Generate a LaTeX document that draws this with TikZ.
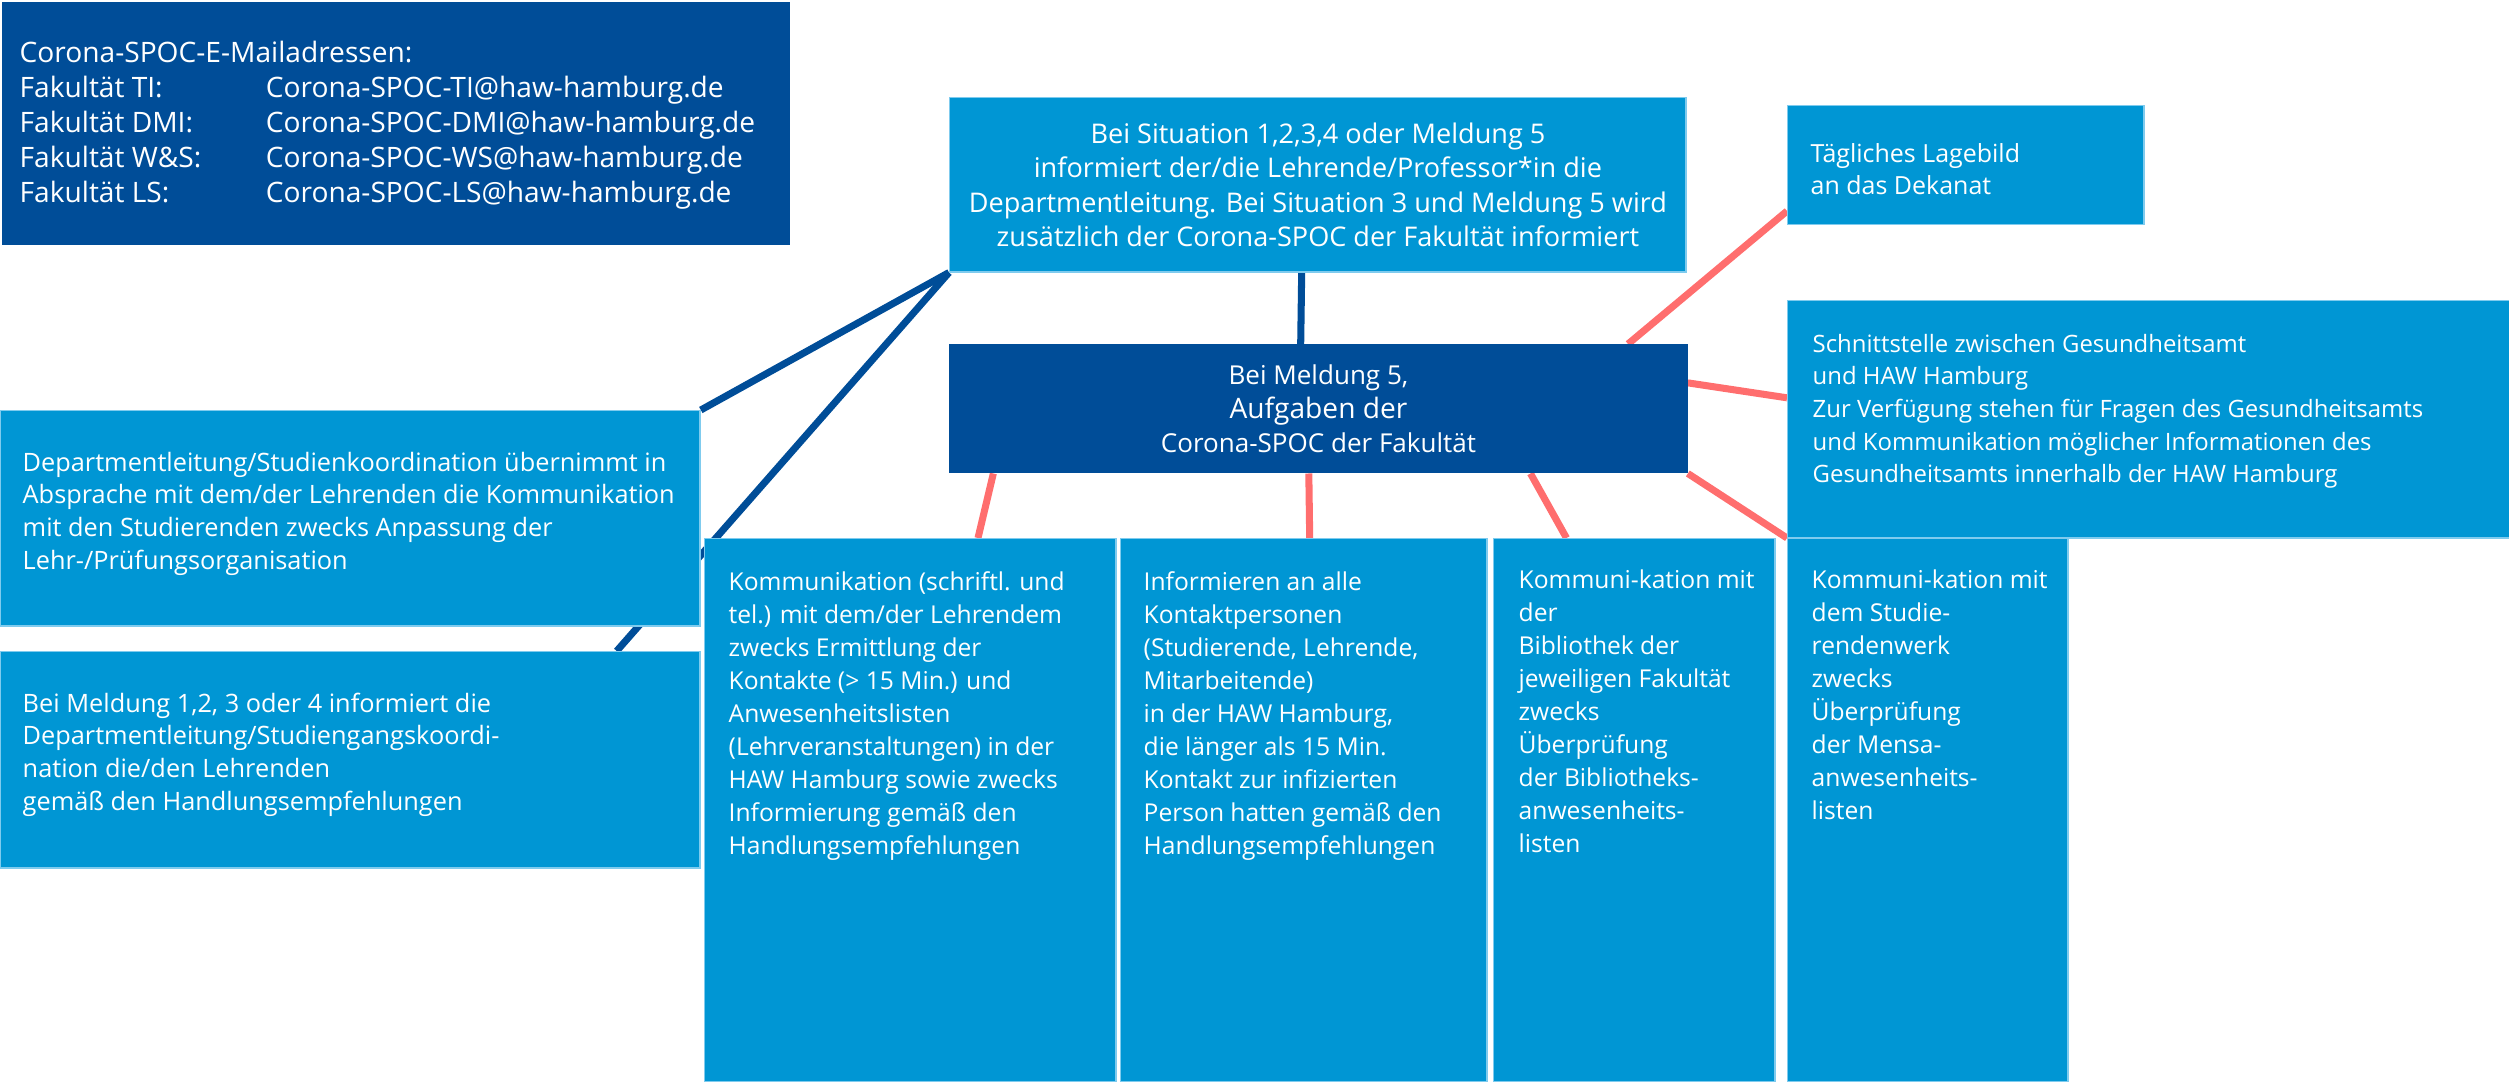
\documentclass[tikz,border=0pt]{standalone}
\usepackage{fontspec}
\setmainfont{Open Sans}
\usetikzlibrary{calc, backgrounds, positioning}
\definecolor{cellblue}{HTML}{0096D4}
\definecolor{spocblue}{HTML}{004D98}
\definecolor{celledge}{HTML}{7FCBEE}
\definecolor{linkred}{HTML}{FF6E6E}
\tikzset{
  panel/.style={rectangle, anchor=north west, inner sep=0pt, fill=cellblue,
                draw=celledge, line width=0.4pt},
  darkpanel/.style={panel, fill=spocblue, draw=spocblue},
  celltxt/.style={anchor=base west, inner sep=0pt, text=white,
                  font=\fontsize{7.0}{9.4}\selectfont},
  sidetxt/.style={celltxt, font=\fontsize{7.2}{9.3}\selectfont},
  headtxt/.style={align=center, text=white, font=\fontsize{7.7}{9.8}\selectfont},
  bluelink/.style={draw=spocblue, line width=2pt},
  redlink/.style={draw=linkred, line width=2pt},
}
\newcommand{\celltext}[1]{\parbox[t]{12cm}{\raggedright #1}}
\newcommand{\faktab}[1]{\makebox[2.46cm][l]{#1}}

\begin{document}
\begin{tikzpicture}[x=0.01cm, y=-0.01cm]
\useasboundingbox (0,0) rectangle (2509,1081);

% Mail addresses, top left
\node[darkpanel, minimum width=7.86cm, minimum height=2.41cm] (mails) at (2,2) {};
\node[celltxt, font=\fontsize{8.0}{9.96}\selectfont] (mailtxt) at (19,62) {\celltext{%
  Corona-SPOC-E-Mailadressen:\\
  \faktab{Fakultät TI:}Corona-SPOC-TI@haw-hamburg.de\\
  \faktab{Fakultät DMI:}Corona-SPOC-DMI@haw-hamburg.de\\
  \faktab{Fakultät W\&S:}Corona-SPOC-WS@haw-hamburg.de\\
  \faktab{Fakultät LS:}Corona-SPOC-LS@haw-hamburg.de}};

% Spine: report of the teacher, then the faculty SPOC
\node[panel, headtxt, minimum width=7.36cm, minimum height=1.74cm] (lage) at (949,97)
  {Bei Situation 1,2,3,4 oder Meldung 5\\
   informiert der/die Lehrende/Professor*in die\\
   Departmentleitung. Bei Situation 3 und Meldung 5 wird\\
   zusätzlich der Corona-SPOC der Fakultät informiert};
\node[darkpanel, headtxt, font=\fontsize{7.4}{9.8}\selectfont,
      minimum width=7.37cm, minimum height=1.28cm] (spoc) at (949,344)
  {Bei Meldung 5,\\
   {\fontsize{8.0}{9.8}\selectfont Aufgaben der}\\
   Corona-SPOC der Fakultät};

% Right column: Dekanat and Gesundheitsamt
\node[panel, minimum width=3.56cm, minimum height=1.19cm] (dekanat) at (1787,105) {};
\node[sidetxt, font=\fontsize{7.1}{9.3}\selectfont] (dekanattxt) at (1810,162) {\celltext{%
  Tägliches Lagebild\\
  an das Dekanat}};
\node[panel, minimum width=7.22cm, minimum height=2.37cm] (gesamt) at (1787,300) {};
\node[sidetxt, font=\fontsize{6.8}{9.3}\selectfont] (gesamttxt) at (1812,352) {\celltext{%
  Schnittstelle zwischen Gesundheitsamt\\
  und HAW Hamburg\\
  Zur Verfügung stehen für Fragen des Gesundheitsamts\\
  und Kommunikation möglicher Informationen des\\
  Gesundheitsamts innerhalb der HAW Hamburg}};

% Left column: Departmentleitung
\node[panel, minimum width=6.99cm, minimum height=2.15cm] (absprache) at (0,410) {};
\node[sidetxt] (abspracheTxt) at (22,471) {\celltext{%
  Departmentleitung/Studienkoordination übernimmt in\\
  Absprache mit dem/der Lehrenden die Kommunikation\\
  mit den Studierenden zwecks Anpassung der\\
  Lehr-/Prüfungsorganisation}};
\node[panel, minimum width=6.99cm, minimum height=2.16cm] (lehrende) at (0,651) {};
\node[sidetxt] (lehrendetxt) at (22,712) {\celltext{%
  Bei Meldung 1,2, 3 oder 4 informiert die\\
  Departmentleitung/Studiengangskoordi-\\
  nation die/den Lehrenden\\
  gemäß den Handlungsempfehlungen}};

% Bottom row: tasks of the SPOC
\node[panel, minimum width=4.11cm, minimum height=5.43cm] (kontakte)   at (704,538)  {};
\node[panel, minimum width=3.66cm, minimum height=5.43cm] (personen)   at (1120,538) {};
\node[panel, minimum width=2.81cm, minimum height=5.43cm] (bibliothek) at (1493,538) {};
\node[panel, minimum width=2.80cm, minimum height=5.43cm] (mensa)      at (1787,538) {};
\node[celltxt] (kontaktetxt) at (728,590) {\celltext{%
  Kommunikation (schriftl. und\\
  tel.) mit dem/der Lehrendem\\
  zwecks Ermittlung der\\
  Kontakte (> 15 Min.) und\\
  Anwesenheitslisten\\
  (Lehrveranstaltungen) in der\\
  HAW Hamburg sowie zwecks\\
  Informierung gemäß den\\
  Handlungsempfehlungen}};
\node[celltxt] (personentxt) at (1143,590) {\celltext{%
  Informieren an alle\\
  Kontaktpersonen\\
  (Studierende, Lehrende,\\
  Mitarbeitende)\\
  in der HAW Hamburg,\\
  die länger als 15 Min.\\
  Kontakt zur infizierten\\
  Person hatten gemäß den\\
  Handlungsempfehlungen}};
\node[celltxt] (bibliothektxt) at (1518,588) {\celltext{%
  Kommuni-kation mit\\
  der\\
  Bibliothek der\\
  jeweiligen Fakultät\\
  zwecks\\
  Überprüfung\\
  der Bibliotheks-\\
  anwesenheits-\\
  listen}};
\node[celltxt] (mensatxt) at (1811,588) {\celltext{%
  Kommuni-kation mit\\
  dem Studie-\\
  rendenwerk\\
  zwecks\\
  Überprüfung\\
  der Mensa-\\
  anwesenheits-\\
  listen}};

% Links, kept behind the boxes
\begin{scope}[on background layer]
  \draw[bluelink] (lage.south west) -- (absprache.north east);
  \draw[bluelink] (lage.south west) -- ($(lehrende.north west)!0.88!(lehrende.north east)$);
  \draw[bluelink] ($(lage.south west)!0.478!(lage.south east)$) -- ($(spoc.north west)!0.476!(spoc.north east)$);
  \draw[redlink] ($(spoc.north west)!0.919!(spoc.north east)$) -- ($(dekanat.north west)!0.88!(dekanat.south west)$);
  \draw[redlink] ($(spoc.north east)!0.30!(spoc.south east)$) -- ($(gesamt.north west)!0.41!(gesamt.south west)$);
  \draw[redlink] (spoc.south east) -- (mensa.north west);
  \draw[redlink] ($(spoc.south west)!0.787!(spoc.south east)$) -- ($(bibliothek.north west)!0.26!(bibliothek.north east)$);
  \draw[redlink] ($(spoc.south west)!0.487!(spoc.south east)$) -- ($(personen.north west)!0.516!(personen.north east)$);
  \draw[redlink] ($(spoc.south west)!0.06!(spoc.south east)$) -- ($(kontakte.north west)!0.664!(kontakte.north east)$);
\end{scope}

\end{tikzpicture}
\end{document}
